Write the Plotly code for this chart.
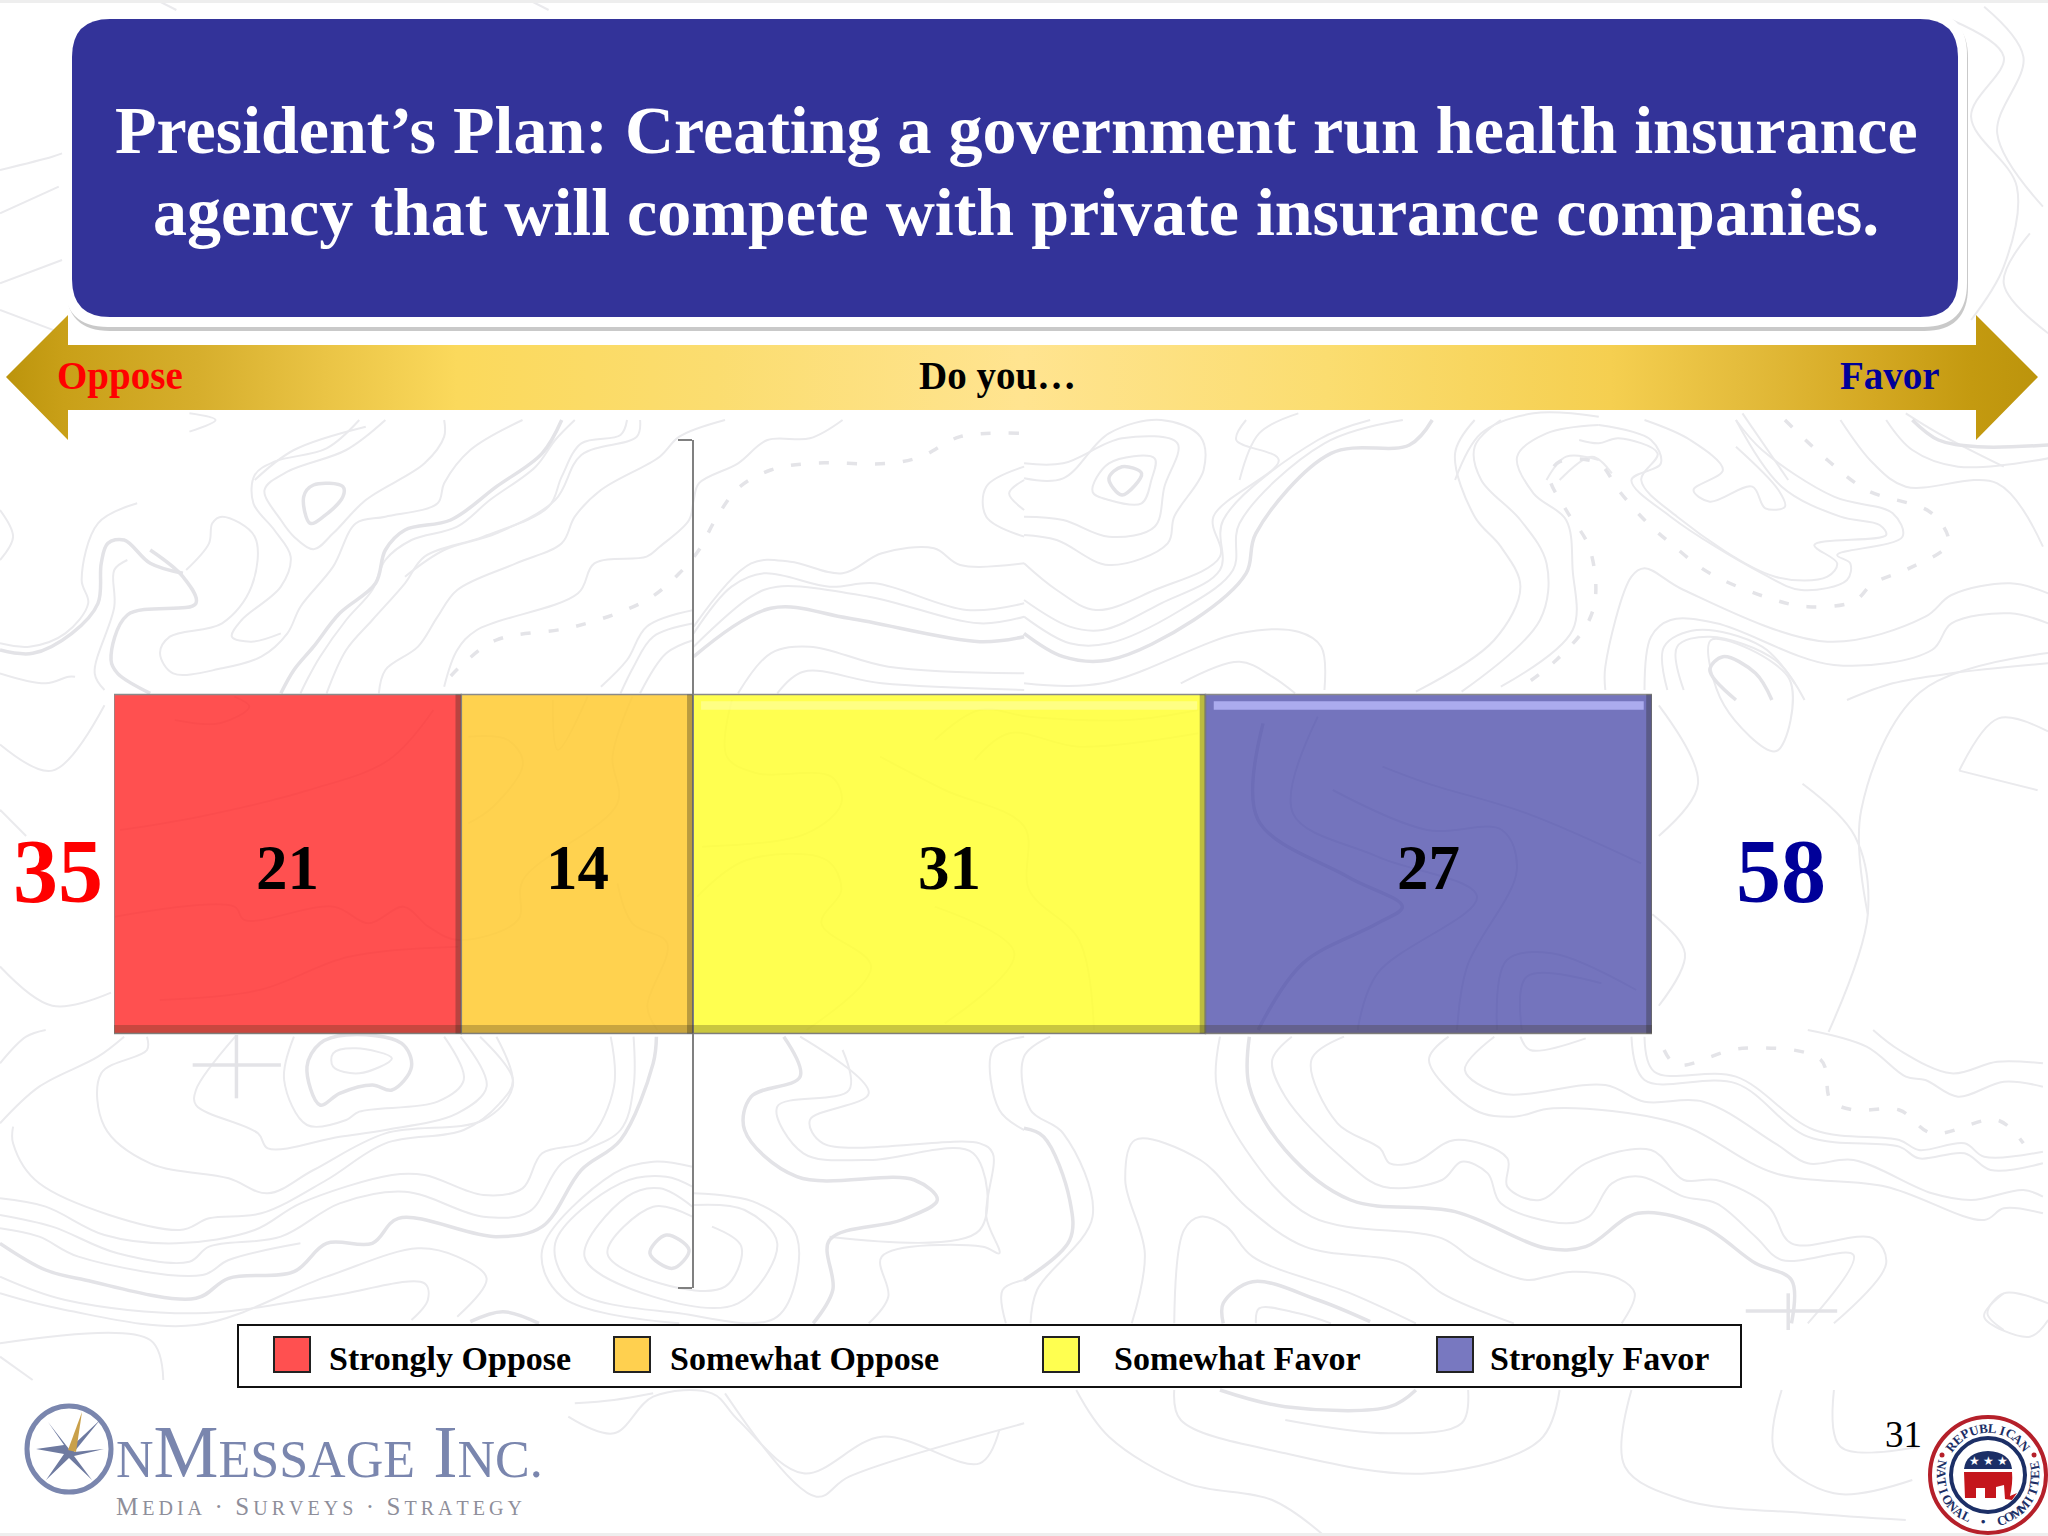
import math
import plotly.graph_objects as go

W = 2048
H = 1536
SERIF = "Liberation Serif"

series_names = ["Somewhat Oppose", "Strongly Oppose", "Somewhat Favor", "Strongly Favor"]
series_values = [-14, -21, 31, 27]
series_colors = ["rgba(255,203,50,0.86)", "rgba(255,41,41,0.82)", "rgba(255,255,47,0.84)", "rgba(68,68,166,0.74)"]
legend_order = ["Strongly Oppose", "Somewhat Oppose", "Somewhat Favor", "Strongly Favor"]
legend_swatch_x = [274, 614, 1043, 1437]
legend_text_x = [328, 669, 1113, 1489]
legend_colors = ["#FF5050", "#FFD04F", "#FFFF50", "#7878C0"]
title_lines = ["President’s Plan: Creating a government run health insurance",
               "agency that will compete with private insurance companies."]

oppose_total = -sum(v for v in series_values if v < 0)
favor_total = sum(v for v in series_values if v > 0)

# background map lines traced from crops of the slide
# each entry: crop origin x, origin y, x scale, y scale, thin lines, heavy lines
map_panels = [
    (0, 420, 1.531, 3, [
        [(550,0),(500,85),(420,125),(390,165),(388,250),(420,330),(445,410),(430,500),(370,600),(355,650),(385,665),(430,640)],
        [(590,0),(530,90),(440,155),(405,210),(430,300),(450,350),(480,388),(510,340),(560,240),(650,130),(680,50),(680,0)],
        [(800,0),(720,90),(680,190),(670,250),(590,290),(545,310),(510,440),(460,560),(440,640),(400,710),(340,745),(265,760),(245,700),(260,650),(340,610),(385,500),(390,350),(340,290),(325,310),(320,370),(285,450)],
        [(880,0),(850,60),(820,140),(750,240),(700,320),(630,360),(590,420),(570,510),(530,600),(490,710),(470,780),(460,820)],
        [(960,0),(950,45),(890,70),(860,170),(840,260),(740,350),(650,410),(620,490),(570,600),(530,690),(500,820)],
        [(980,0),(975,50),(890,105),(850,240),(760,340),(680,390),(620,470)],
        [(1110,0),(1040,50),(1010,110),(920,210),(880,290),(860,370),(790,430),(700,510),(670,590),(640,680),(590,750),(580,820)],
        [(1290,0),(1240,55),(1175,60),(1130,130),(1070,190),(1062,240),(1055,300),(1010,380),(990,410),(910,430),(885,520),(730,630),(700,690),(680,800)],
        [(0,270),(20,350),(0,420)],
        [(210,250),(150,310),(125,480),(135,550),(100,640),(45,680),(0,670)],
        [(195,420),(175,450),(175,560),(145,760),(160,810)],
        [(0,760),(70,790),(105,770),(115,770)],
        [(1568,140),(1510,200),(1510,290),(1568,350)],
        [(1568,180),(1545,220),(1568,270)],
        [(1062,620),(1150,430),(1210,425),(1290,460),(1350,400),(1430,385),(1470,435),(1568,430)],
        [(1062,640),(1120,500),(1170,460),(1270,500),(1340,490),(1480,570),(1568,550)],
        [(1062,680),(1150,530),(1190,500),(1330,530),(1500,610),(1568,590)],
        [(1130,820),(1180,700),(1240,680),(1360,740),(1568,760)],
        [(1190,820),(1230,755),(1350,790),(1568,810)],
        [(1062,570),(990,620),(960,720),(920,800)],
        [(1062,610),(1000,650),(970,740),(950,820)],
        [(1062,660),(1020,700),(980,820)],
    ], [
        [(465,230),(480,195),(525,200),(525,230),(495,290),(475,310),(465,230)],
        [(860,0),(830,100),(760,200),(690,300),(620,330),(590,390),(575,490),(520,580),(480,680),(450,750),(430,820)],
        [(280,460),(230,430),(190,360),(165,370),(155,430),(150,550),(110,640),(50,700),(0,690)],
        [(230,390),(280,470),(300,550),(195,585),(170,720),(180,760),(230,820)],
        [(1062,710),(1180,565),(1300,595),(1500,665),(1568,650)],
    ]),
    (1024, 420, 1.531, 3, [
        [(0,130),(60,130),(150,55),(235,70),(215,200),(200,320),(130,350),(60,300),(0,290)],
        [(0,175),(60,175),(130,40),(210,0),(270,50),(275,150),(230,290),(220,370),(130,435),(50,360),(0,345)],
        [(130,130),(200,115),(195,180),(180,250),(130,240),(105,215),(130,130)],
        [(0,430),(50,510),(110,570),(200,510),(300,410),(290,290),(390,120),(325,60),(340,0)],
        [(0,540),(70,620),(120,630),(210,550),(300,450),(305,300),(450,60),(530,0)],
        [(0,590),(70,670),(130,670),(240,570),(320,450),(330,310),(460,70),(580,0)],
        [(0,790),(120,790),(330,640),(420,635),(455,680),(460,810)],
        [(240,790),(330,725),(380,770),(415,820)],
        [(690,0),(660,100),(690,290),(730,380),(760,500),(720,660),(600,815)],
        [(730,0),(690,80),(700,180),(760,300),(800,430),(790,600),(670,815)],
        [(880,15),(800,40),(755,110),(780,220),(830,300),(840,450),(840,630),(730,800)],
        [(850,60),(880,70),(910,55),(970,100),(945,180),(1000,290),(1150,470),(1230,470),(1245,430),(1210,375),(1320,345),(1310,315),(1250,290),(1160,200),(1090,0)],
        [(880,15),(960,60),(975,130),(930,180),(990,290),(1130,460),(1190,510),(1260,480),(1265,430),(1245,405),(1345,350),(1330,280),(1240,230),(1130,90),(1090,0)],
        [(950,0),(1020,60),(1070,150),(1025,210),(1050,245),(1115,200),(1135,265),(1165,260),(1155,210),(1090,80)],
        [(1250,0),(1300,130),(1350,200),(1490,190),(1560,380)],
        [(1320,0),(1360,90),(1430,140),(1568,115)],
        [(890,810),(890,740),(930,470),(950,445),(1010,510),(1230,665),(1380,590),(1420,525),(1510,490),(1568,520)],
        [(950,810),(960,650),(990,600),(1060,610),(1240,735),(1390,690),(1420,610),(1510,580),(1568,610)],
        [(985,810),(980,680),(1030,630),(1130,680),(1180,790)],
        [(1010,810),(1000,680),(1050,650),(1150,720),(1195,840)],
        [(1260,840),(1330,790),(1420,760),(1568,730)],
    ], [
        [(130,175),(150,140),(180,160),(150,225),(130,175)],
        [(0,640),(60,710),(130,720),(260,600),(340,460),(355,340),(470,100),(590,75),(625,0)],
        [(1360,0),(1400,60),(1460,80),(1568,75)],
        [(1090,840),(1050,750),(1070,710),(1120,760),(1145,840)],
    ]),
    (0, 1030, 1.531, 3, [
        [(0,100),(40,20),(70,0)],
        [(0,280),(60,170),(150,80),(190,20)],
        [(225,20),(225,60),(155,130),(160,290),(230,400),(350,445),(410,490),(480,420),(590,310),(740,270),(785,170),(760,20)],
        [(20,290),(20,340),(60,460),(275,600),(320,565),(400,550),(500,450),(590,340),(710,300),(765,220),(785,150),(735,20)],
        [(360,20),(300,180),(300,225),(395,310),(410,355),(520,320),(590,300),(700,250),(745,170),(705,20)],
        [(450,20),(435,150),(470,285),(530,270),(550,245),(670,215),(710,150),(680,20)],
        [(545,55),(600,85),(550,130),(510,110),(510,70),(545,55)],
        [(0,505),(70,530),(160,615),(270,640),(390,600),(460,520),(600,435),(650,435),(740,495),(800,475),(830,370),(900,330),(940,170),(935,20)],
        [(0,555),(80,590),(180,670),(290,695),(320,650),(430,620),(520,520),(620,485),(740,560),(810,545),(860,400),(950,300),(970,170),(970,20)],
        [(0,595),(60,620),(120,680),(310,735),(350,690),(460,640)],
        [(0,740),(100,810),(300,850),(500,800),(650,760),(655,810),(630,870)],
        [(0,790),(100,840),(300,885),(500,740),(640,655),(700,680),(745,745),(700,860)],
        [(1060,560),(1000,530),(930,670),(1010,760),(1110,770),(1135,650),(1090,590)],
        [(1060,530),(1010,475),(960,500),(895,680),(1000,800),(1130,820),(1190,640),(1140,540),(1062,525)],
        [(1060,470),(1020,440),(950,460),(850,640),(880,780),(1040,850),(1190,860),(1220,620),(1160,520),(1062,490)],
        [(1060,410),(1000,395),(940,430),(830,660),(860,800),(1040,880)],
        [(1225,20),(1330,190),(1240,270),(1260,340),(1500,340),(1520,370),(1510,560),(1530,670),(1505,650),(1350,680),(1360,800),(1330,880)],
        [(1290,60),(1300,180),(1190,230),(1230,370),(1330,390),(1490,370),(1500,600),(1270,620)],
        [(1568,20),(1520,60),(1530,240),(1568,300)],
        [(1568,750),(1535,780),(1540,880)],
    ], [
        [(490,225),(470,110),(490,40),(530,15),(615,40),(630,110),(600,180),(570,165),(520,190),(490,225)],
        [(295,105),(430,105)],
        [(362,15),(362,205)],
        [(0,640),(70,720),(130,750),(300,805),(350,745),(450,725),(500,640),(570,640),(610,565),(760,620),(830,590),(890,420),(950,330),(1000,100),(1005,20)],
        [(1020,615),(1055,660),(1030,715),(995,670),(1020,615)],
        [(1200,20),(1225,140),(1150,200),(1140,300),(1220,440),(1400,450),(1435,510),(1380,570),(1270,630),(1275,780),(1245,880)],
        [(720,875),(770,845),(825,880)],
    ]),
    (1024, 1030, 1.531, 3, [
        [(40,20),(0,80),(10,240),(60,310),(105,560),(20,780),(10,880)],
        [(300,20),(295,170),(340,360),(440,560),(640,625),(690,690),(770,750),(800,740),(840,725),(910,745),(935,790),(915,880)],
        [(410,20),(380,90),(400,200),(490,390),(550,470),(640,450),(670,395),(710,430),(730,520),(830,580),(865,560),(900,460),(945,440),(1010,500),(1060,520),(1120,620),(1160,690),(1270,675),(1200,880)],
        [(490,20),(440,90),(480,280),(545,355),(560,400),(600,395),(660,330),(740,385),(740,470),(790,510),(860,400),(960,360),(1010,450),(1060,450),(1140,530),(1175,640),(1300,625),(1320,700),(1240,880)],
        [(165,880),(185,670),(155,450),(170,330),(270,390),(340,530),(430,650),(580,700),(640,790),(750,880)],
        [(230,880),(245,600),(270,560),(310,590),(350,680),(500,790),(600,880)],
        [(355,880),(360,835),(420,850),(470,880)],
        [(650,20),(620,90),(690,240),(750,260),(810,235),(1000,280),(1150,430),(1320,470),(1470,570),(1500,535),(1560,550)],
        [(720,20),(675,120),(730,190),(890,165),(950,215),(1040,215),(1150,340),(1200,400),(1270,390),(1390,490),(1450,510),(1530,480),(1560,500)],
        [(930,20),(950,150),(1090,160),(1200,320),(1340,350),(1370,385),(1440,370),(1480,420),(1560,400)],
        [(950,20),(965,125),(1090,140),(1210,300),(1340,330),(1370,360),(1440,340),(1470,380),(1560,365)],
        [(760,20),(775,60),(860,25)],
        [(1200,0),(1290,50),(1350,140),(1380,150),(1430,200),(1500,155),(1560,170)],
        [(1300,0),(1340,60),(1420,130),(1490,95),(1560,100)],
        [(1568,820),(1500,790),(1475,850),(1500,900)],
    ], [
        [(0,295),(30,320),(70,510),(70,630),(0,750)],
        [(345,20),(345,170),(400,360),(500,510),(660,545),(800,655),(860,650),(940,550),(1040,590),(1120,700),(1175,750),(1175,880)],
        [(305,880),(305,820),(350,755),(450,810),(530,875)],
        [(1105,843),(1245,843)],
        [(1170,790),(1170,900)],
    ]),
    (110, 690, 2.01, 3, [
        [(10,680),(250,650),(270,690),(450,650),(520,700),(590,650),(640,710),(700,750),(820,690),(830,570),(1020,340),(1010,200),(1050,20)],
        [(130,90),(220,100),(280,50),(250,20)],
        [(100,930),(300,900),(480,800),(700,770)],
        [(20,420),(180,380),(400,300),(560,210),(650,60)],
        [(720,140),(800,150),(830,220),(770,350),(720,400)],
        [(1020,580),(1050,700),(1120,760),(1080,950),(1100,1020)],
        [(890,30),(900,180),(960,20)],
        [(1250,30),(1240,200),(1300,250),(1450,260),(1470,340),(1400,430),(1190,470)],
        [(1180,620),(1280,510),(1440,510),(1470,600),(1430,700),(1530,830),(1400,1020)],
    ], []),
    (880, 690, 2.01, 3, [
        [(110,150),(200,60),(300,80),(500,90),(640,60)],
        [(190,210),(260,130),(400,170),(640,130)],
        [(0,200),(130,300),(290,410),(300,600),(400,750),(430,1020)],
        [(110,650),(270,790),(130,1000)],
        [(1010,230),(1100,280),(1300,370),(1530,520)],
        [(910,300),(1100,420),(1250,420),(1280,540),(1180,830),(1160,1020)],
        [(1240,1020),(1260,810),(1350,790),(1520,900)],
        [(1290,1020),(1300,860),(1450,880)],
        [(880,80),(830,370),(1000,500),(1200,620),(1000,850),(960,1020)],
    ], [
        [(770,100),(760,390),(940,560),(1050,650),(1000,700),(850,820),(760,1020)],
    ]),
    (1024, 1280, 1.531, 3, [
        [(80,330),(130,470),(250,610),(380,660),(460,768)],
        [(230,330),(240,420),(400,520),(620,580),(790,480),(820,330)],
        [(680,330),(670,430),(560,460),(400,420)],
        [(930,330),(920,560),(1010,660),(1200,700),(1350,720)],
        [(1160,330),(1150,520),(1240,640),(1360,600)],
        [(1240,330),(1250,500),(1370,500)],
        [(1500,40),(1470,110),(1540,170),(1568,120)],
    ], [
        [(300,330),(400,380),(560,380),(600,330)],
    ]),
    (0, 1280, 1.531, 3, [
        [(870,410),(940,460),(1000,350),(1090,340),(1130,420),(1230,580),(1350,470),(1500,550),(1530,450)],
        [(880,370),(940,360),(1000,340)],
        [(1110,340),(1250,650),(1300,590),(1568,430)],
        [(0,190),(230,180),(250,300)],
        [(0,230),(50,300)],
    ], []),
    (0, 0, 1.531, 3, [
        [(0,510),(80,470),(95,460)],
        [(0,640),(90,560)],
        [(0,850),(95,780)],
        [(0,930),(95,1000)],
        [(290,1240),(330,1260),(290,1295)],
        [(390,1440),(450,1350),(560,1280)],
        [(240,0),(270,30)],
        [(810,0),(840,30)],
    ], []),
    (1024, 0, 1.531, 3, [
        [(1420,60),(1500,170),(1450,350),(1520,560),(1500,800),(1450,960)],
        [(1470,20),(1530,170),(1490,400),(1560,620)],
        [(1540,700),(1500,850),(1568,1000)],
        [(330,1440),(360,1300),(420,1240)],
        [(660,1440),(700,1300),(780,1240),(880,1250)],
        [(800,1440),(830,1370),(880,1380)],
        [(1100,1240),(1170,1440)],
        [(1350,1240),(1400,1300),(1500,1400)],
        [(820,1440),(870,1370),(900,1420)],
    ], []),
    # either side of the bars
    (0, 0, 0.7656, 0.7656, [
        [(1430,700),(1425,620),(1470,530),(1568,500)],
        [(1500,590),(1530,550),(1568,560)],
        [(1500,590),(1560,605)],
        [(1310,490),(1370,520),(1360,575),(1320,540),(1310,490)],
        [(1265,700),(1290,730),(1270,770)],
        [(1380,600),(1420,640),(1430,700),(1400,790)],
        [(1270,540),(1300,600),(1270,640)],
        [(0,570),(40,590),(80,540)],
        [(0,620),(20,640)],
        [(0,740),(40,770),(85,760)],
    ], []),
]
# dotted trails on the map, in the same crop terms
map_trails = [
    (0, 420, 1.531, 3, [(1560,40),(1470,50),(1410,110),(1360,130),(1240,130),(1180,150),(1130,205),(1095,300),(1070,390),(1040,460),(990,540),(880,620),(760,660),(710,730),(680,790)]),
    (1024, 420, 1.531, 3, [(1165,0),(1230,120),(1290,210),(1390,280),(1415,370),(1355,445),(1300,490),(1270,545),(1200,560),(1150,540),(1050,460),(990,370),(950,300),(910,210),(880,130),(820,125),(805,170),(830,270),(865,380),(875,530),(860,620),(815,720),(770,790)]),
    (1024, 1030, 1.531, 3, [(980,60),(1000,105),(1100,55),(1220,90),(1235,210),(1270,240),(1340,240),(1390,310),(1490,270),(1530,340)]),
]


def collect(lines, ox, oy, sx, sy, xs, ys):
    for line in lines:
        xs.extend([ox + p[0]/sx for p in line] + [None])
        ys.extend([oy + p[1]/sy for p in line] + [None])


thin_x, thin_y, heavy_x, heavy_y, trail_x, trail_y = [], [], [], [], [], []
for ox, oy, sx, sy, thin, heavy in map_panels:
    collect(thin, ox, oy, sx, sy, thin_x, thin_y)
    collect(heavy, ox, oy, sx, sy, heavy_x, heavy_y)
for ox, oy, sx, sy, line in map_trails:
    collect([line], ox, oy, sx, sy, trail_x, trail_y)

fig = go.Figure()

# backdrop on the first subplot so it stays under the bars
fig.add_trace(go.Scatter(x=thin_x, y=thin_y, mode="lines", line=dict(color="#EAEAED", width=2, shape="spline"),
                         xaxis="x", yaxis="y", hoverinfo="skip", showlegend=False))
fig.add_trace(go.Scatter(x=heavy_x, y=heavy_y, mode="lines", line=dict(color="#E3E3E7", width=3.5, shape="spline"),
                         xaxis="x", yaxis="y", hoverinfo="skip", showlegend=False))
fig.add_trace(go.Scatter(x=trail_x, y=trail_y, mode="lines", line=dict(color="#E4E4E8", width=3.5, shape="spline", dash="10px,18px"),
                         xaxis="x", yaxis="y", hoverinfo="skip", showlegend=False))

# gold arrow
arrow_x = [6, 68, 68, 1976, 1976, 2038, 1976, 1976, 68, 68, 6]
arrow_y = [377, 315, 345, 345, 315, 377, 440, 410, 410, 440, 377]
fig.add_trace(go.Scatter(x=arrow_x, y=arrow_y, mode="lines", fill="toself", line=dict(width=0, color="rgba(0,0,0,0)"),
                         fillgradient=dict(type="horizontal", colorscale=[
                             [0, "#BC940C"], [0.029, "#C9A018"], [0.094, "#D6AE2C"], [0.157, "#EAC445"], [0.222, "#FBD95C"],
                             [0.35, "#FBDD70"], [0.5, "#FFE490"], [0.65, "#FBDD70"], [0.79, "#F5CF50"], [0.854, "#E4BC3C"],
                             [0.919, "#D4A822"], [0.967, "#C49A10"], [1, "#BC940C"]]),
                         xaxis="x", yaxis="y", hoverinfo="skip", showlegend=False))

# the actual chart
for name, value, color in zip(series_names, series_values, series_colors):
    fig.add_trace(go.Bar(x=[value], y=[0.5], width=0.4, orientation="h", name=name,
                         marker=dict(color=color, line=dict(color="#8A8A8A", width=1.5)),
                         xaxis="x2", yaxis="y2", showlegend=False))

left = 114
right = 1652
zero_pos = (left + (right-left)*oppose_total/(oppose_total+favor_total))/W

shapes = []
annotations = []


def paper_rect(x0, y0, x1, y1, **kw):
    shapes.append(dict(type="rect", xref="paper", yref="paper", x0=x0/W, x1=x1/W, y0=1-y0/H, y1=1-y1/H, **kw))


def paper_path(path, **kw):
    shapes.append(dict(type="path", xref="x", yref="y", path=path, **kw))


def paper_circle(cx, cy, rx, ry, **kw):
    shapes.append(dict(type="circle", xref="x", yref="y", x0=cx-rx, x1=cx+rx, y0=cy-ry, y1=cy+ry, **kw))


def label(x, y, text, size, color="#000000", bold=True, anchor="center", angle=0):
    annotations.append(dict(xref="paper", yref="paper", x=x/W, y=1-y/H, text=text, showarrow=False,
                            xanchor=anchor, yanchor="middle", textangle=angle, borderpad=0,
                            font=dict(family=SERIF, size=size, color=color, weight="bold" if bold else "normal")))


def round_box(x0, y0, x1, y1, r):
    return (f"M{x0+r},{y0} L{x1-r},{y0} Q{x1},{y0} {x1},{y0+r} L{x1},{y1-r} Q{x1},{y1} {x1-r},{y1} "
            f"L{x0+r},{y1} Q{x0},{y1} {x0},{y1-r} L{x0},{y0+r} Q{x0},{y0} {x0+r},{y0} Z")


# faint strip along the top and bottom of the slide
paper_rect(0, 0, W, 3, fillcolor="#EEEEEE", line=dict(width=0), layer="above")
paper_rect(0, 1533, W, H, fillcolor="#EEEEEE", line=dict(width=0), layer="above")

# title banner
paper_path(round_box(66, 14, 1968, 331, 44), fillcolor="rgba(120,120,120,0.4)", line=dict(width=0), layer="above")
paper_path(round_box(64, 11, 1967, 327, 44), fillcolor="#FFFFFF", line=dict(width=0), layer="above")
paper_path(round_box(72, 19, 1958, 317, 38), fillcolor="#333399", line=dict(width=0), layer="above")
label(1016, 130, title_lines[0], 68, "#FFFFFF")
label(1016, 212, title_lines[1], 68, "#FFFFFF")

label(120, 376, "Oppose", 39, "#FF0000")
label(997, 376, "Do you…", 39, "#000000")
label(1890, 376, "Favor", 39, "#000099")

# bevel and value label of each segment, from the same values
top_shine = {"Somewhat Favor": "rgba(255,255,255,0.3)", "Strongly Favor": "rgba(190,190,255,0.75)"}
start_neg = 0
start_pos = 0
for name, value in zip(series_names, series_values):
    if value < 0:
        a, b = start_neg + value, start_neg
        start_neg += value
    else:
        a, b = start_pos, start_pos + value
        start_pos += value
    base = dict(type="rect", xref="x2", yref="y2", line=dict(width=0), layer="above")
    shapes.append(dict(base, x0=a, x1=b, y0=0.3, y1=0.31, fillcolor="rgba(60,50,20,0.28)"))
    shapes.append(dict(base, x0=b-0.35, x1=b, y0=0.3, y1=0.7, fillcolor="rgba(40,40,30,0.32)"))
    if name in top_shine:
        shapes.append(dict(base, x0=a+0.5, x1=b-0.5, y0=0.682, y1=0.692, fillcolor=top_shine[name]))
    annotations.append(dict(xref="x2", yref="y2", x=(a+b)/2, y=0.5, yshift=-4, text=str(abs(value)), showarrow=False,
                            xanchor="center", yanchor="middle",
                            font=dict(family=SERIF, size=63, color="#000000", weight="bold")))

label(58, 871, str(oppose_total), 90, "#FF0000")
label(1781, 871, str(favor_total), 90, "#000099")

# legend box
paper_rect(238, 1325, 1741, 1387, fillcolor="#FFFFFF", line=dict(color="#111111", width=2), layer="above")
for name, sx, tx, col in zip(legend_order, legend_swatch_x, legend_text_x, legend_colors):
    paper_rect(sx, 1337, sx+36, 1372, fillcolor=col, line=dict(color="#222222", width=2), layer="above")
    label(tx, 1358, name, 34, "#000000", anchor="left")

label(1903, 1434, "31", 37, bold=False)

# OnMessage logo
logo_col = "#7A86AE"
paper_circle(69, 1449, 42, 43, fillcolor="rgba(255,255,255,0.8)", line=dict(color=logo_col, width=5), layer="above")
paper_path("M69,1449 L100,1420 L74,1452 L104,1449 L74,1456 L92,1480 L69,1458 L46,1480 L64,1454 L36,1449 L64,1445 L48,1422 Z",
           fillcolor="#6E7AA0", line=dict(width=0), layer="above")
paper_path("M68,1450 L82,1412 L76,1452 Z", fillcolor="#C9A04A", line=dict(width=0), layer="above")
annotations.append(dict(xref="paper", yref="paper", x=114/W, y=1-1452/H, showarrow=False, xanchor="left", yanchor="middle",
                        text='<span style="font-size:52px">N</span>M<span style="font-size:52px">ESSAGE</span> I<span style="font-size:52px">NC.</span>',
                        font=dict(family=SERIF, size=73, color=logo_col)))
annotations.append(dict(xref="paper", yref="paper", x=114/W, y=1-1506/H, showarrow=False, xanchor="left", yanchor="middle",
                        text='M<span style="font-size:20px">\u2009E\u2009D\u2009I\u2009A</span>  ·  S<span style="font-size:20px">\u2009U\u2009R\u2009V\u2009E\u2009Y\u2009S</span>  ·  S<span style="font-size:20px">\u2009T\u2009R\u2009A\u2009T\u2009E\u2009G\u2009Y</span>',
                        font=dict(family=SERIF, size=25, color="#8E8E9A")))

# RNC seal
cx, cy, r = 1988, 1475, 58
paper_circle(cx, cy, r, r, fillcolor="#FFFFFF", line=dict(color="#B5202A", width=4), layer="above")
paper_circle(cx, cy, 37, 37, fillcolor="#FFFFFF", line=dict(color="#1C2F66", width=4), layer="above")
paper_path(f"M{cx-24},{cy-6} Q{cx-22},{cy-23} {cx},{cy-24} Q{cx+22},{cy-23} {cx+24},{cy-6} Z",
           fillcolor="#1C2F66", line=dict(width=0), layer="above")
paper_path(f"M{cx-24},{cy-3} L{cx+24},{cy-3} Q{cx+25},{cy+8} {cx+22},{cy+21} L{cx+29},{cy+18} L{cx+24},{cy+25} L{cx+17},{cy+24} "
           f"L{cx+16},{cy+10} L{cx+8},{cy+12} L{cx+8},{cy+23} L{cx-3},{cy+23} L{cx-3},{cy+13} L{cx-12},{cy+13} L{cx-12},{cy+23} L{cx-23},{cy+23} Z",
           fillcolor="#C4161C", line=dict(width=0), layer="above")
label(cx, cy-14, "★ ★ ★", 12, "#FFFFFF", bold=False)
top_text = "REPUBLICAN"
for i, ch in enumerate(top_text):
    a = math.radians(-52 + i*104/(len(top_text)-1))
    label(cx+47*math.sin(a), cy-47*math.cos(a), ch, 13, "#1C2F66", angle=math.degrees(a))
bottom_text = "NATIONAL • COMMITTEE"
for i, ch in enumerate(bottom_text):
    a = math.radians(-102 + i*204/(len(bottom_text)-1))
    label(cx+47*math.sin(a), cy+47*math.cos(a), ch, 13, "#1C2F66", angle=-math.degrees(a))
for side in (-1, 1):
    paper_circle(cx+side*46, cy-20, 2.5, 2.5, fillcolor="#B5202A", line=dict(width=0), layer="above")

fig.update_layout(
    width=W, height=H, margin=dict(l=0, r=0, t=0, b=0), autosize=False,
    paper_bgcolor="#FFFFFF", plot_bgcolor="rgba(0,0,0,0)",
    barmode="relative", showlegend=False, hovermode=False,
    shapes=shapes, annotations=annotations,
    xaxis=dict(domain=[0, 1], range=[0, W], visible=False, fixedrange=True),
    yaxis=dict(domain=[0, 1], range=[H, 0], visible=False, fixedrange=True),
    xaxis2=dict(domain=[left/W, right/W], range=[-oppose_total, favor_total], visible=False, anchor="y2", fixedrange=True),
    yaxis2=dict(domain=[1-1288/H, 1-440/H], range=[0, 1], anchor="free", position=zero_pos, side="left",
                showline=True, linecolor="#808080", linewidth=2, showgrid=False, zeroline=False,
                tickmode="array", tickvals=[0, 1], ticks="outside", ticklen=14, tickwidth=2, tickcolor="#808080",
                showticklabels=False, fixedrange=True),
)

fig.write_html("out.html", post_script="document.body.style.margin='0';", config={"displayModeBar": False})
